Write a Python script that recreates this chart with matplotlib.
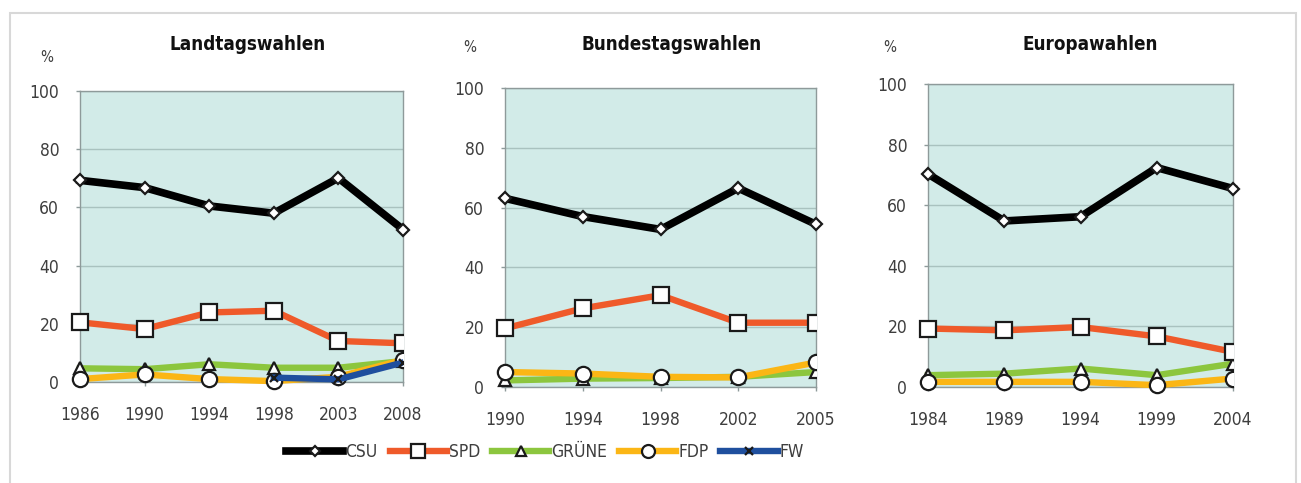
import numpy as np
import matplotlib
matplotlib.use("Agg")
import matplotlib.pyplot as plt
from matplotlib.lines import Line2D
from matplotlib.patches import Rectangle
from matplotlib.transforms import Bbox, TransformedBbox

plt.rcParams['font.family'] = ['DejaVu Sans']
plt.rcParams['font.stretch'] = 'condensed'

# data (percent)
parties = ['CSU', 'SPD', 'GRÜNE', 'FDP', 'FW']

land_years = ['1986', '1990', '1994', '1998', '2003', '2008']
land_csu = [69.3, 66.8, 60.5, 58.0, 70.1, 52.4]
land_spd = [20.5, 18.2, 23.9, 24.5, 14.1, 13.3]
land_gruene = [4.7, 4.4, 6.1, 4.9, 4.9, 7.2]
land_fdp = [1.0, 2.6, 1.0, 0.3, 1.8, 7.6]
land_fw = [np.nan, np.nan, np.nan, 1.5, 0.9, 6.7]

bund_years = ['1990', '1994', '1998', '2002', '2005']
bund_csu = [63.1, 57.0, 52.7, 66.5, 54.4]
bund_spd = [19.6, 26.3, 30.7, 21.5, 21.5]
bund_gruene = [2.2, 2.8, 3.0, 3.4, 5.0]
bund_fdp = [5.0, 4.5, 3.4, 3.2, 8.2]

euro_years = ['1984', '1989', '1994', '1999', '2004']
euro_csu = [70.3, 54.8, 56.2, 72.4, 65.5]
euro_spd = [19.3, 18.7, 19.8, 16.7, 11.6]
euro_gruene = [3.9, 4.4, 6.1, 3.9, 7.7]
euro_fdp = [1.7, 1.7, 1.7, 0.6, 2.8]

panels = [
    ('Landtagswahlen', land_years, [land_csu, land_spd, land_gruene, land_fdp, land_fw]),
    ('Bundestagswahlen', bund_years, [bund_csu, bund_spd, bund_gruene, bund_fdp, None]),
    ('Europawahlen', euro_years, [euro_csu, euro_spd, euro_gruene, euro_fdp, None]),
]

# axes rectangles in pixels: left, right, top, bottom
W, H = 1301, 483
boxes = [(80, 403, 91, 382), (505, 816, 88, 387), (928, 1233, 84, 387)]
title_x = [248, 672, 1090]
pct_pos = [(47, 58), (470, 47), (890, 47)]

colors = ['#000000', '#ef5a2a', '#8cc63e', '#fbb615', '#1f4f9e']
lws = [5.5, 4.6, 4.6, 4.6, 4.6]
markers = ['D', 's', '^', 'o', 'x']
msizes = [6, 12, 9, 11, 6]
zorders = [6, 5, 3, 4, 5]

bg = '#d2ebe8'
edge = '#8e9a9a'
txt = '#3e3e3e'

fig = plt.figure(figsize=(W / 100, H / 100), dpi=100)
fig.patch.set_facecolor('white')

# light frame round the whole graphic
fig.add_artist(Rectangle((10 / W, -0.05), 1286 / W, 1 - 13 / H + 0.05,
                         transform=fig.transFigure, fill=False,
                         edgecolor='#d8d8d8', linewidth=1.5))

for (title, years, series), (l, r, t, b), tx, (px, py) in zip(panels, boxes, title_x, pct_pos):
    ax = fig.add_axes([l / W, (H - b) / H, (r - l) / W, (b - t) / H])
    ax.set_facecolor(bg)
    x = np.arange(len(years))
    clip = TransformedBbox(Bbox([[-0.2, -0.2], [1.0, 1.2]]), ax.transAxes)
    for i, vals in enumerate(series):
        if vals is None:
            continue
        mfc = 'none' if markers[i] == 'x' else 'white'
        ln, = ax.plot(x, vals, color=colors[i], lw=lws[i], marker=markers[i],
                      ms=msizes[i], mfc=mfc, mec='#1a1a1a', mew=1.6,
                      zorder=zorders[i], solid_joinstyle='miter')
        if i == 0:
            ln.set_clip_on(False)
        else:
            ln.set_clip_box(clip)
    ax.set_xlim(0, len(years) - 1)
    ax.set_ylim(0, 100)
    ax.set_yticks([0, 20, 40, 60, 80, 100])
    ax.set_xticks(x)
    ax.set_xticklabels(years)
    ax.grid(axis='y', color='#a9c2bf', lw=1.0)
    ax.set_axisbelow(True)
    for s in ax.spines.values():
        s.set_color(edge)
        s.set_linewidth(1.0)
    ax.tick_params(axis='both', colors=edge, labelcolor=txt, labelsize=12.5,
                   length=3, width=1)
    ax.tick_params(axis='x', pad=14)
    ax.tick_params(axis='y', pad=12)
    fig.text(tx / W, 1 - 45 / H, title, ha='center', va='center',
             fontsize=13.5, fontweight='bold', color='#111111')
    fig.text(px / W, 1 - py / H, '%', ha='center', va='center',
             fontsize=11, color=txt)

handles = []
for i, p in enumerate(parties):
    mfc = 'none' if markers[i] == 'x' else 'white'
    handles.append(Line2D([], [], color=colors[i], lw=lws[i], marker=markers[i],
                          ms=msizes[i] * 0.85, mfc=mfc, mec='#1a1a1a', mew=1.6))
leg = fig.legend(handles, parties, loc='center', bbox_to_anchor=(545 / W, 1 - 452 / H),
                 ncol=5, frameon=False, handlelength=3.3, handletextpad=0.1,
                 columnspacing=0.7, fontsize=12.5, numpoints=1)
for t in leg.get_texts():
    t.set_color(txt)

fig.savefig('out.png', dpi=100)
